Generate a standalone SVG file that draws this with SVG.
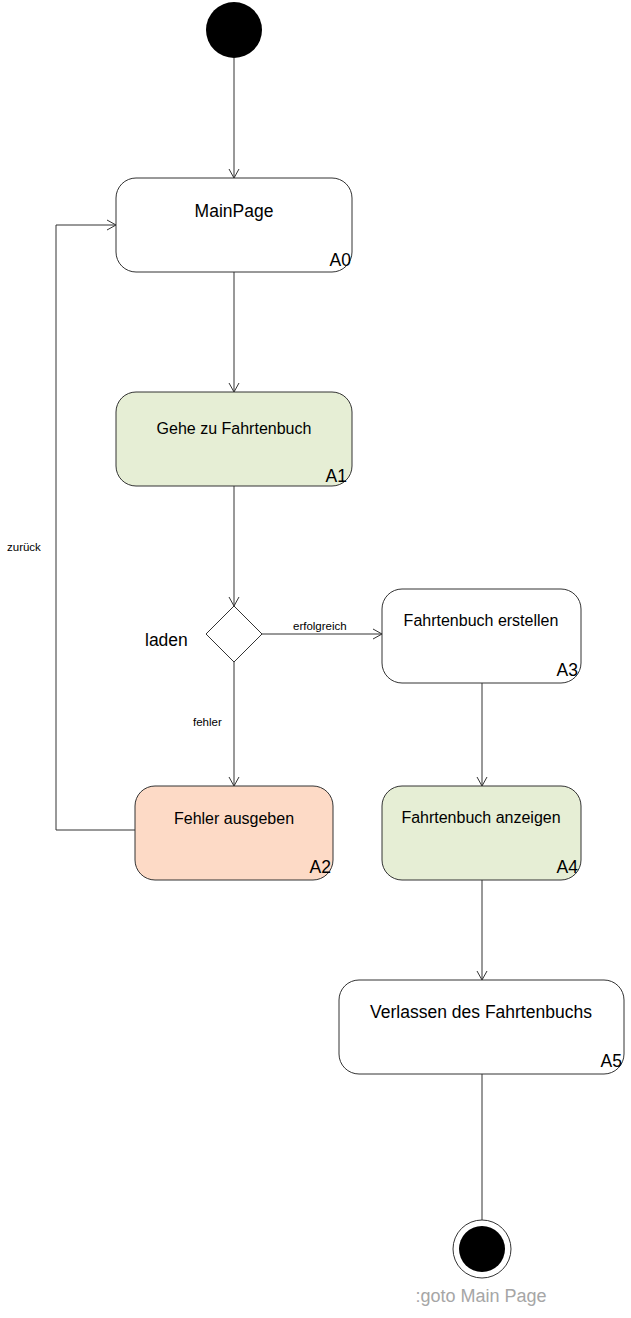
<svg xmlns="http://www.w3.org/2000/svg" width="631" height="1318" viewBox="0 0 631 1318">
<defs>
<marker id="arr" markerWidth="12" markerHeight="12" refX="10" refY="6" orient="auto" markerUnits="userSpaceOnUse">
<path d="M1,1 L10,6 L1,11" fill="none" stroke="#333" stroke-width="1"/>
</marker>
<style>
.box{stroke:#333;stroke-width:1;fill:#fff}
.green{fill:#e6eed5}
.orange{fill:#fddac6}
.t{font-family:"Liberation Sans",Arial,sans-serif;fill:#000}
.lbl{font-size:16px;text-anchor:middle}
.big{font-size:17.5px;text-anchor:middle}
.id{font-size:17.5px;text-anchor:end}
.small{font-size:11.5px}
.line{stroke:#333;stroke-width:1;fill:none}
</style>
</defs>
<rect width="631" height="1318" fill="#fff"/>
<g id="connectors">
<line class="line" x1="234" y1="58" x2="234" y2="178" marker-end="url(#arr)"/>
<line class="line" x1="234" y1="272" x2="234" y2="392" marker-end="url(#arr)"/>
<line class="line" x1="234" y1="486" x2="234" y2="606" marker-end="url(#arr)"/>
<line class="line" x1="234" y1="662" x2="234" y2="786" marker-end="url(#arr)"/>
<line class="line" x1="262" y1="634" x2="382" y2="634" marker-end="url(#arr)"/>
<line class="line" x1="482" y1="683" x2="482" y2="786" marker-end="url(#arr)"/>
<line class="line" x1="482" y1="880" x2="482" y2="980" marker-end="url(#arr)"/>
<line class="line" x1="482" y1="1074" x2="482" y2="1220"/>
<polyline class="line" points="135,830 56,830 56,225 116,225" marker-end="url(#arr)"/>
<text class="t small" x="293" y="630">erfolgreich</text>
<text class="t small" x="7" y="551">zurück</text>
<text class="t small" x="193" y="726">fehler</text>
</g>
<g id="start">
<circle cx="234" cy="30" r="28" fill="#000"/>
</g>
<g id="A0">
<rect class="box" x="116" y="178" width="236" height="94" rx="20"/>
<text class="t big" x="234" y="217">MainPage</text>
<text class="t id" x="351" y="266">A0</text>
</g>
<g id="A1">
<rect class="box green" x="116" y="392" width="236" height="94" rx="20"/>
<text class="t lbl" x="234" y="434">Gehe zu Fahrtenbuch</text>
<text class="t id" x="347" y="482">A1</text>
</g>
<g id="decision">
<polygon class="box" points="234,606 262,634 234,662 206,634"/>
<text class="t" x="145" y="646" font-size="17.5">laden</text>
</g>
<g id="A3">
<rect class="box" x="382" y="589" width="199" height="94" rx="20"/>
<text class="t lbl" x="481" y="626">Fahrtenbuch erstellen</text>
<text class="t id" x="578" y="676">A3</text>
</g>
<g id="A2">
<rect class="box orange" x="135" y="786" width="198" height="94" rx="20"/>
<text class="t lbl" x="234" y="824">Fehler ausgeben</text>
<text class="t id" x="331" y="873">A2</text>
</g>
<g id="A4">
<rect class="box green" x="382" y="786" width="199" height="94" rx="20"/>
<text class="t lbl" x="481" y="823">Fahrtenbuch anzeigen</text>
<text class="t id" x="578" y="873">A4</text>
</g>
<g id="A5">
<rect class="box" x="339" y="980" width="285" height="94" rx="20"/>
<text class="t big" x="481" y="1018">Verlassen des Fahrtenbuchs</text>
<text class="t id" x="622" y="1067">A5</text>
</g>
<g id="end">
<circle cx="482" cy="1249" r="29" fill="#fff" stroke="#333" stroke-width="1"/>
<circle cx="482" cy="1249" r="23" fill="#000"/>
<text class="t" x="481" y="1302" font-size="18" text-anchor="middle" style="fill:#a6a6a6">:goto Main Page</text>
</g>
</svg>
